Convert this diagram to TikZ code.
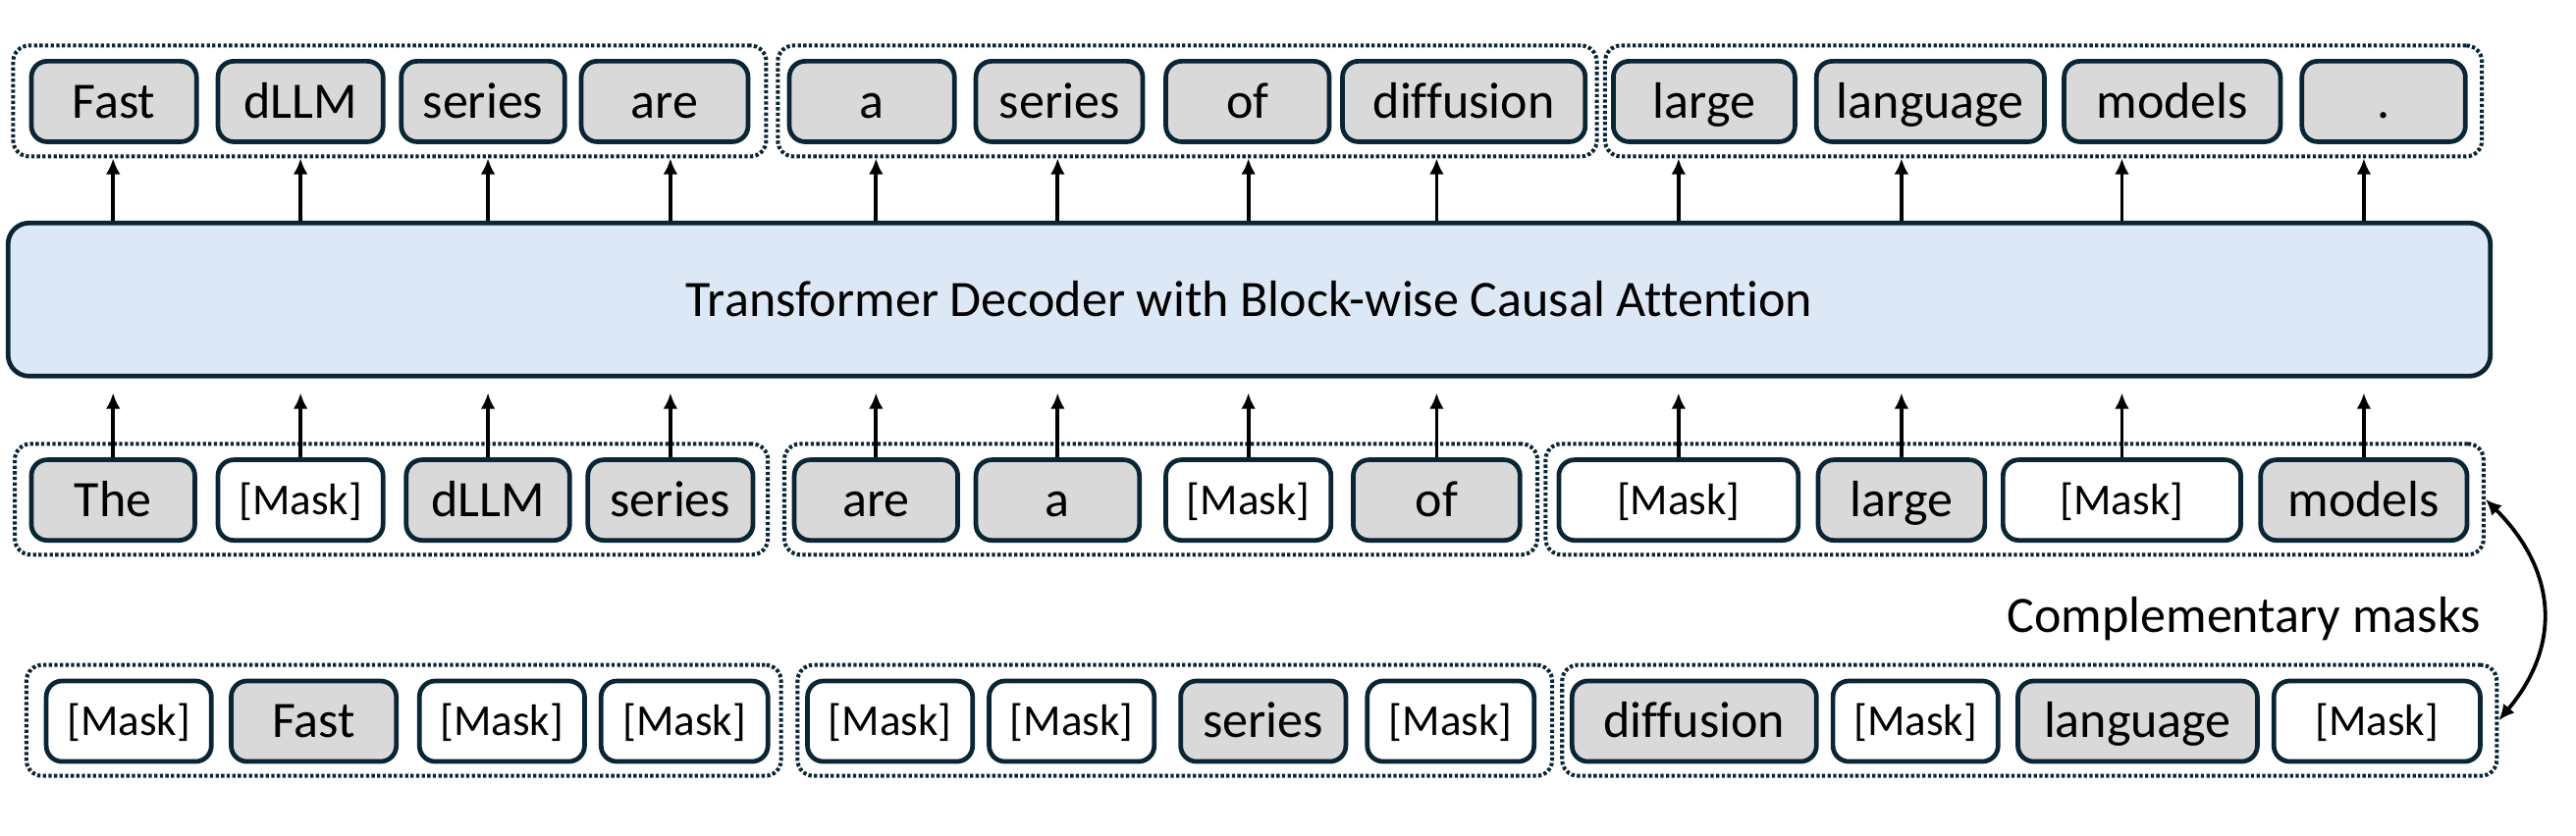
\documentclass[tikz,border=0pt]{standalone}
\usepackage{fontspec}
\setmainfont{Carlito}[Ligatures=NoCommon]
\usetikzlibrary{arrows.meta}

\definecolor{edge}{HTML}{0A2534}
\definecolor{tokfill}{HTML}{D9D9D9}
\definecolor{decfill}{HTML}{DDE8F6}

\begin{document}
\begin{tikzpicture}[
  x=0.125mm, y=-0.125mm,
  >={Latex[length=1.2mm,width=1.1mm]},
  tok/.style={draw=edge, fill=tokfill, line width=1pt, rounded corners=1.2mm,
    inner sep=0pt, minimum height=6.1mm, text height=2.5mm, text depth=0pt,
    font=\fontsize{11}{13}\selectfont},
  msk/.style={tok, fill=white, text height=2.15mm, font=\fontsize{9.5}{11}\selectfont},
  bw/.style={minimum width=#1*0.125mm},
  grp/.style={draw=edge, line width=0.85pt, dash pattern=on 0.7pt off 0.5pt,
    rounded corners=1.2mm, inner sep=0pt, minimum height=8.4mm},
  dec/.style={draw=edge, fill=decfill, line width=1pt, rounded corners=1.6mm,
    minimum width=187.9mm, minimum height=11.6mm, text height=2.5mm, text depth=0pt,
    font=\fontsize{11}{13}\selectfont},
]

\useasboundingbox (0,0) rectangle (1560,506.5);

% output tokens
\node [tok, bw=100] (out1) at (69,61.5) {Fast};
\node [tok, bw=100] (out2) at (182,61.5) {dLLM};
\node [tok, bw=99] (out3) at (292.5,61.5) {series};
\node [tok, bw=101] (out4) at (402.5,61.5) {are};
\node [tok, bw=100] (out5) at (528,61.5) {a};
\node [tok, bw=101] (out6) at (641.5,61.5) {series};
\node [tok, bw=99] (out7) at (755.5,61.5) {of};
\node [tok, bw=147] (out8) at (886.5,61.5) {diffusion};
\node [tok, bw=110] (out9) at (1032,61.5) {large};
\node [tok, bw=138] (out10) at (1169,61.5) {language};
\node [tok, bw=131] (out11) at (1315.5,61.5) {models};
\node [tok, bw=99] (out12) at (1443.5,61.5) {.};

\node [grp, bw=456] (og1) at (236,61.2) {};
\node [grp, bw=496] (og2) at (719,61.2) {};
\node [grp, bw=531] (og3) at (1237.5,61.2) {};

% decoder
\node [dec] (dec) at (756.5,181.5) {Transformer Decoder with Block-wise Causal Attention};

% masked input
\node [tok, bw=99] (in1) at (68.5,303) {The};
\node [msk, bw=100] (in2) at (182,303) {[Mask]};
\node [tok, bw=99] (in3) at (295.5,303) {dLLM};
\node [tok, bw=100] (in4) at (406,303) {series};
\node [tok, bw=99] (in5) at (530.5,303) {are};
\node [tok, bw=99] (in6) at (640.5,303) {a};
\node [msk, bw=100] (in7) at (756,303) {[Mask]};
\node [tok, bw=101] (in8) at (870,303) {of};
\node [msk, bw=145] (in9) at (1016.5,303) {[Mask]};
\node [tok, bw=101] (in10) at (1151.5,303) {large};
\node [msk, bw=144] (in11) at (1285,303) {[Mask]};
\node [tok, bw=125] (in12) at (1431.5,303) {models};

\node [grp, bw=456] (ig1) at (237,302.5) {};
\node [grp, bw=456] (ig2) at (703,302.5) {};
\node [grp, bw=568] (ig3) at (1220,302.5) {};

% complementary input
\node [msk, bw=100] (cm1) at (78,437) {[Mask]};
\node [tok, bw=100] (cm2) at (190,437) {Fast};
\node [msk, bw=100] (cm3) at (304,437) {[Mask]};
\node [msk, bw=101] (cm4) at (414.5,437) {[Mask]};
\node [msk, bw=100] (cm5) at (539,437) {[Mask]};
\node [msk, bw=100] (cm6) at (649,437) {[Mask]};
\node [tok, bw=100] (cm7) at (765,437) {series};
\node [msk, bw=101] (cm8) at (878.5,437) {[Mask]};
\node [tok, bw=148] (cm9) at (1026,437) {diffusion};
\node [msk, bw=100] (cm10) at (1160,437) {[Mask]};
\node [tok, bw=145] (cm11) at (1294.5,437) {language};
\node [msk, bw=125] (cm12) at (1439.5,437) {[Mask]};

\node [grp, bw=457] (cg1) at (244.5,436.5) {};
\node [grp, bw=457] (cg2) at (711.5,436.5) {};
\node [grp, bw=566] (cg3) at (1229,436.5) {};

\node [anchor=base east, font=\fontsize{11}{13}\selectfont] (cmlabel) at (1512,383) {Complementary masks};

% input -> decoder
\draw [->, thick, shorten >=1.1mm] (in1.north) -- (in1.north |- dec.south);
\draw [->, thick, shorten >=1.1mm] (in2.north) -- (in2.north |- dec.south);
\draw [->, thick, shorten >=1.1mm] (in3.north) -- (in3.north |- dec.south);
\draw [->, thick, shorten >=1.1mm] (in4.north) -- (in4.north |- dec.south);
\draw [->, thick, shorten >=1.1mm] (in5.north) -- (in5.north |- dec.south);
\draw [->, thick, shorten >=1.1mm] (in6.north) -- (in6.north |- dec.south);
\draw [->, thick, shorten >=1.1mm] (in7.north) -- (in7.north |- dec.south);
\draw [->, thick, shorten >=1.1mm] (in8.north) -- (in8.north |- dec.south);
\draw [->, thick, shorten >=1.1mm] (in9.north) -- (in9.north |- dec.south);
\draw [->, thick, shorten >=1.1mm] (in10.north) -- (in10.north |- dec.south);
\draw [->, thick, shorten >=1.1mm] (in11.north) -- (in11.north |- dec.south);
\draw [->, thick, shorten >=1.1mm] (in12.north) -- (in12.north |- dec.south);

% decoder -> output
\draw [->, thick] (in1.north |- dec.north) -- (in1.north |- og1.south);
\draw [->, thick] (in2.north |- dec.north) -- (in2.north |- og1.south);
\draw [->, thick] (in3.north |- dec.north) -- (in3.north |- og1.south);
\draw [->, thick] (in4.north |- dec.north) -- (in4.north |- og1.south);
\draw [->, thick] (in5.north |- dec.north) -- (in5.north |- og2.south);
\draw [->, thick] (in6.north |- dec.north) -- (in6.north |- og2.south);
\draw [->, thick] (in7.north |- dec.north) -- (in7.north |- og2.south);
\draw [->, thick] (in8.north |- dec.north) -- (in8.north |- og2.south);
\draw [->, thick] (in9.north |- dec.north) -- (in9.north |- og3.south);
\draw [->, thick] (in10.north |- dec.north) -- (in10.north |- og3.south);
\draw [->, thick] (in11.north |- dec.north) -- (in11.north |- og3.south);
\draw [->, thick] (in12.north |- dec.north) -- (in12.north |- og3.south);

\draw [<->, thick] (ig3.east) to [out=-45, in=50, looseness=1.15] (cg3.east);

\end{tikzpicture}
\end{document}
